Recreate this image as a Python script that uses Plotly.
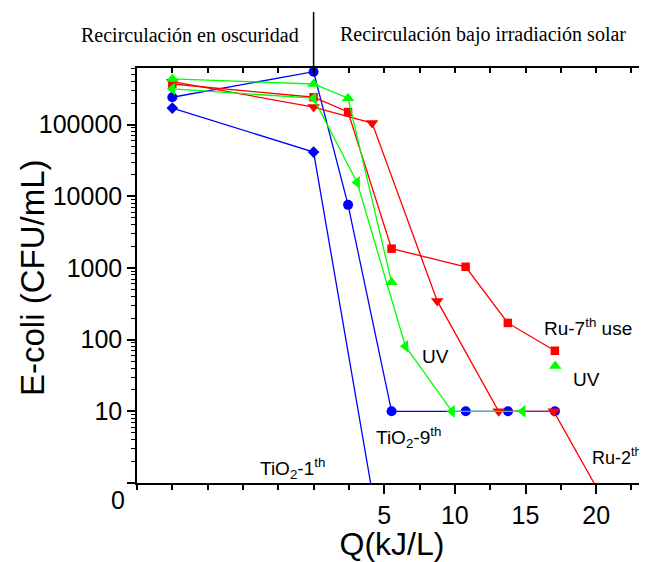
import numpy as np
import plotly.graph_objects as go

# ---- data ----
tio2_9_x = [-10, 0, 2.44, 5.52, 10.77, 13.76, 17.08]
tio2_9_y = [241000, 547000, 7600, 10, 10, 10, 10]

tio2_1_x = [-10, 0, 5.52]
tio2_1_y = [170000, 41400, 0.02]

ru7_x = [-10, 0, 2.44, 5.52, 10.76, 13.75, 17.08]
ru7_y = [369000, 241000, 150000, 1860, 1040, 171, 70]

ru2_x = [-10, 0, 4.14, 8.75, 13.1, 17.0, 20.5]
ru2_y = [398000, 176000, 105000, 347, 10, 10, 0.59]

uv_up_x = [-10, 0, 2.44, 5.52, None, 17.1]
uv_up_y = [434000, 369000, 234000, 630, None, 43]

uv_left_x = [-10, 0, 3.08, 6.5, 9.8, 14.8]
uv_left_y = [315000, 234000, 15600, 81, 10, 10]

y_tickvals = [1, 10, 100, 1000, 10000, 100000]
y_ticktext = ["", "10", "100", "1000", "10000", "100000"]
x_tickvals = [5, 10, 15, 20]

# ---- layout geometry (pixels, reference frame) ----
OFF = 8                      # page body margin of the browser
W, H = 647 - OFF, 562 - OFF
PLOT_L, PLOT_T, PLOT_B = 137, 68, 483
PW, PH = 510, PLOT_B - PLOT_T
L, T = PLOT_L - OFF, PLOT_T - OFF
B = H - (PLOT_B - OFF)
R = W - L - PW


def px(xp):
    return (xp - PLOT_L) / PW


def py(yp):
    return (PLOT_B - yp) / PH


BLUE, RED, GREEN = "#0000FF", "#FF0000", "#00FF00"

fig = go.Figure()


def add(x, y, color, symbol, size):
    fig.add_trace(go.Scatter(
        x=x, y=y, mode="lines+markers",
        line=dict(color=color, width=1.3),
        marker=dict(color=color, symbol=symbol, size=size),
        showlegend=False, cliponaxis=True))


add(tio2_1_x, tio2_1_y, BLUE, "diamond", 9)
add(tio2_9_x, tio2_9_y, BLUE, "circle", 10)
add(ru7_x, ru7_y, RED, "square", 8.5)
add(ru2_x, ru2_y, RED, "triangle-down", 11)
add(uv_up_x, uv_up_y, GREEN, "triangle-up", 11)
add(uv_left_x, uv_left_y, GREEN, "triangle-left", 11)

# dummy trace for mirrored axes
fig.add_trace(go.Scatter(x=[None], y=[None], xaxis="x2", yaxis="y2",
                         showlegend=False, hoverinfo="skip"))

XR = [-12.5, 23.6]
YR = [0, 5.79]
minor_vals = [m * 10 ** d for d in range(0, 6) for m in range(2, 10)]

tickfont = dict(family="Liberation Sans, Arial", size=25, color="black")

fig.update_layout(
    width=W, height=H,
    margin=dict(l=L, r=R, t=T, b=B, pad=0),
    paper_bgcolor="white", plot_bgcolor="white",
    xaxis=dict(
        range=XR, showline=True, linecolor="black", linewidth=1.5,
        ticks="outside", ticklen=9, tickwidth=1.5, tickcolor="black",
        tickvals=x_tickvals, ticktext=[str(v) for v in x_tickvals],
        tickfont=tickfont, showgrid=False, zeroline=False,
        minor=dict(tickmode="linear", tick0=-12.5, dtick=2.5, ticks="outside",
                   ticklen=5, tickwidth=1.5, tickcolor="black", showgrid=False),
        title=dict(text="Q(kJ/L)", font=dict(family="Liberation Sans, Arial",
                                              size=32, color="black"), standoff=12),
    ),
    yaxis=dict(
        type="log", range=YR, showline=True, linecolor="black", linewidth=1.5,
        ticks="outside", ticklen=8, tickwidth=1.5, tickcolor="black",
        tickvals=y_tickvals, ticktext=y_ticktext, tickfont=tickfont,
        showgrid=False, zeroline=False,
        minor=dict(tickmode="array", tickvals=minor_vals, ticks="outside",
                   ticklen=4, tickwidth=1, tickcolor="black", showgrid=False),
    ),
    xaxis2=dict(
        overlaying="x", side="top", anchor="y", range=XR, showline=True,
        linecolor="black", linewidth=1.5, ticks="inside", ticklen=5, tickwidth=1.5,
        tickcolor="black", tickmode="linear", tick0=-12.5, dtick=2.5,
        showticklabels=False, showgrid=False, zeroline=False,
    ),
    yaxis2=dict(
        overlaying="y", side="right", anchor="x", type="log", range=YR,
        showline=True, linecolor="black", linewidth=1.5, ticks="inside", ticklen=5,
        tickwidth=1.5, tickcolor="black", tickvals=y_tickvals,
        showticklabels=False, showgrid=False, zeroline=False,
    ),
)

# vertical separator at Q = 0
fig.add_shape(type="line", xref="x", yref="paper", x0=0, x1=0,
              y0=py(76), y1=py(12), line=dict(color="black", width=1.5))

serif = dict(family="Liberation Serif, Times New Roman", size=20, color="black")
sans = dict(family="Liberation Sans, Arial", size=19, color="black")
sans_s = dict(family="Liberation Sans, Arial", size=18, color="black")

ann = [
    dict(text="Recirculación en oscuridad", x=px(301), y=py(35), xanchor="right", font=serif),
    dict(text="Recirculación bajo irradiación solar", x=px(338), y=py(35), xanchor="left", font=serif),
    dict(text="TiO<sub>2</sub>-1<sup>th</sup>", x=px(258), y=py(468), xanchor="left", font=sans),
    dict(text="TiO<sub>2</sub>-9<sup>th</sup>", x=px(374), y=py(437), xanchor="left", font=sans),
    dict(text="Ru-2<sup>th</sup>", x=px(644), y=py(456), xanchor="right", font=sans_s),
    dict(text="Ru-7<sup>th</sup> use", x=px(542), y=py(327), xanchor="left", font=sans),
    dict(text="UV", x=px(420), y=py(356), xanchor="left", font=sans),
    dict(text="UV", x=px(571), y=py(379), xanchor="left", font=sans),
    dict(text="0", x=px(127), y=py(500), xanchor="right", font=tickfont),
    dict(text="E-coli (CFU/mL)", x=px(32), y=py(278), xanchor="center", textangle=-90,
         font=dict(family="Liberation Sans, Arial", size=33, color="black")),
]
for a in ann:
    fig.add_annotation(xref="paper", yref="paper", showarrow=False,
                       yanchor="middle", **a)

fig.write_html("out.html")
